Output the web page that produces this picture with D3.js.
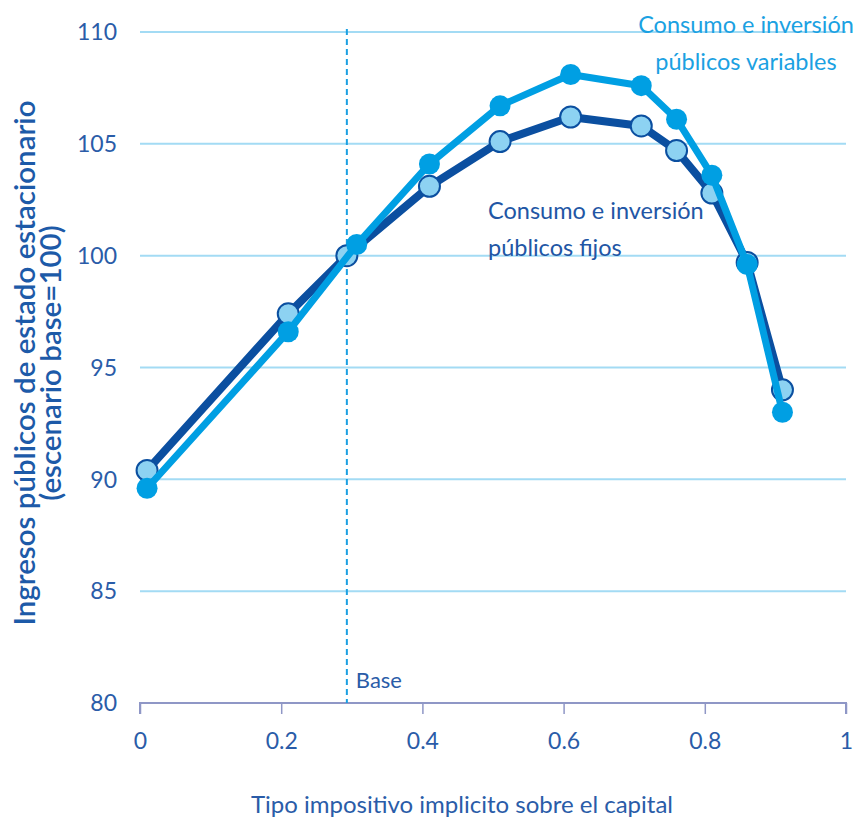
<!DOCTYPE html>
<html>
<head>
<meta charset="utf-8">
<script src="https://cdn.jsdelivr.net/npm/d3@7"></script>
<style>
  html, body { margin: 0; padding: 0; background: #fff; }
  svg { display: block; }
  text { font-family: Lato, "Open Sans", sans-serif; }
</style>
</head>
<body>
<svg id="chart" width="857" height="821"></svg>
<script>
// ---- data ----
const fixedX    = [0.01, 0.21, 0.293, 0.41, 0.51, 0.61, 0.71, 0.76, 0.81, 0.86, 0.91];
const fixedY    = [90.4, 97.4, 100.0, 103.1, 105.1, 106.2, 105.8, 104.7, 102.8, 99.7, 94.0];
const variableX = [0.01, 0.21, 0.307, 0.41, 0.51, 0.61, 0.71, 0.76, 0.81, 0.86, 0.91];
const variableY = [89.6, 96.6, 100.5, 104.1, 106.7, 108.1, 107.6, 106.1, 103.6, 99.6, 93.0];
const xTicks = [0, 0.2, 0.4, 0.6, 0.8, 1];
const xTickLabels = ["0", "0.2", "0.4", "0.6", "0.8", "1"];
const yTicks = [80, 85, 90, 95, 100, 105, 110];
const baseValue = 0.293;
const yTitleLines = ["Ingresos públicos de estado estacionario", "(escenario base=100)"];
const xTitle = "Tipo impositivo implicito sobre el capital";
const fixedLabel = ["Consumo e inversión", "públicos fijos"];
const variableLabel = ["Consumo e inversión", "públicos variables"];

const svg = d3.select("#chart");
const x = d3.scaleLinear().domain([0, 1]).range([140, 846]);
const y = d3.scaleLinear().domain([80, 110]).range([703, 32]);

const cDark = "#0b4fa0", cMid = "#009fe3", cLight = "#8dd2f2", cText = "#2a5ca8";

// gridlines
svg.append("g").selectAll("line").data(yTicks.filter(d => d > 80)).join("line")
  .attr("x1", x(0)).attr("x2", x(1))
  .attr("y1", d => y(d)).attr("y2", d => y(d))
  .attr("stroke", "#a3dbf4").attr("stroke-width", 2);

// y tick labels
svg.append("g").selectAll("text").data(yTicks).join("text")
  .attr("x", 117).attr("y", d => y(d)).attr("dy", "0.36em")
  .attr("text-anchor", "end").attr("font-size", 23).attr("fill", cText)
  .text(d => d);

// x axis
const xAxis = d3.axisBottom(x).tickValues(xTicks).tickSize(11).tickFormat((d, i) => xTickLabels[i]);
const gx = svg.append("g").attr("transform", `translate(0,${y(80)})`).call(xAxis);
gx.select(".domain").attr("stroke", "#8f97c6").attr("stroke-width", 2).attr("d", `M${x(0)},11V0H${x(1)}V11`);
gx.selectAll(".tick line").attr("stroke", "#8f97c6").attr("stroke-width", 1.5);
gx.selectAll(".tick text").attr("font-size", 23).attr("fill", cText).attr("dy", "1.4em")
  .style("font-family", "Lato, sans-serif");

// base line
svg.append("line")
  .attr("x1", x(baseValue)).attr("x2", x(baseValue))
  .attr("y1", 29).attr("y2", y(80))
  .attr("stroke", "#1aa0e2").attr("stroke-width", 2).attr("stroke-dasharray", "6,4");
svg.append("text").attr("x", x(baseValue) + 9).attr("y", 688)
  .attr("font-size", 22).attr("fill", cText).text("Base");

// lines
const line = d3.line().x(d => x(d[0])).y(d => y(d[1]));
const fixedData = fixedX.map((v, i) => [v, fixedY[i]]);
const varData = variableX.map((v, i) => [v, variableY[i]]);

svg.append("path").datum(fixedData).attr("d", line)
  .attr("fill", "none").attr("stroke", cDark).attr("stroke-width", 8).attr("stroke-linejoin", "round");
svg.append("g").selectAll("circle").data(fixedData).join("circle")
  .attr("cx", d => x(d[0])).attr("cy", d => y(d[1])).attr("r", 10.5)
  .attr("fill", cLight).attr("stroke", cDark).attr("stroke-width", 2);

svg.append("path").datum(varData).attr("d", line)
  .attr("fill", "none").attr("stroke", cMid).attr("stroke-width", 7).attr("stroke-linejoin", "round");
svg.append("g").selectAll("circle").data(varData).join("circle")
  .attr("cx", d => x(d[0])).attr("cy", d => y(d[1])).attr("r", 10.5)
  .attr("fill", cMid);

// labels
svg.append("text").attr("font-size", 23.5).attr("fill", "#2256a5")
  .selectAll("tspan").data(fixedLabel).join("tspan")
  .attr("x", 488).attr("y", (d, i) => 219 + i * 37).text(d => d);
svg.append("text").attr("font-size", 23.5).attr("fill", "#1ba1e2").attr("text-anchor", "middle")
  .selectAll("tspan").data(variableLabel).join("tspan")
  .attr("x", 746).attr("y", (d, i) => 33 + i * 37).text(d => d);

// axis titles
svg.append("text").attr("x", 462).attr("y", 813).attr("text-anchor", "middle")
  .attr("font-size", 24).attr("fill", cText).text(xTitle);
const yt = svg.append("text").attr("transform", "rotate(-90)")
  .attr("text-anchor", "middle").attr("font-size", 29.5).attr("fill", "#1d5aa8").attr("font-weight", 600);
yt.selectAll("tspan").data(yTitleLines).join("tspan")
  .attr("x", -363).attr("y", (d, i) => 35 + i * 26).text(d => d);
</script>
</body>
</html>
